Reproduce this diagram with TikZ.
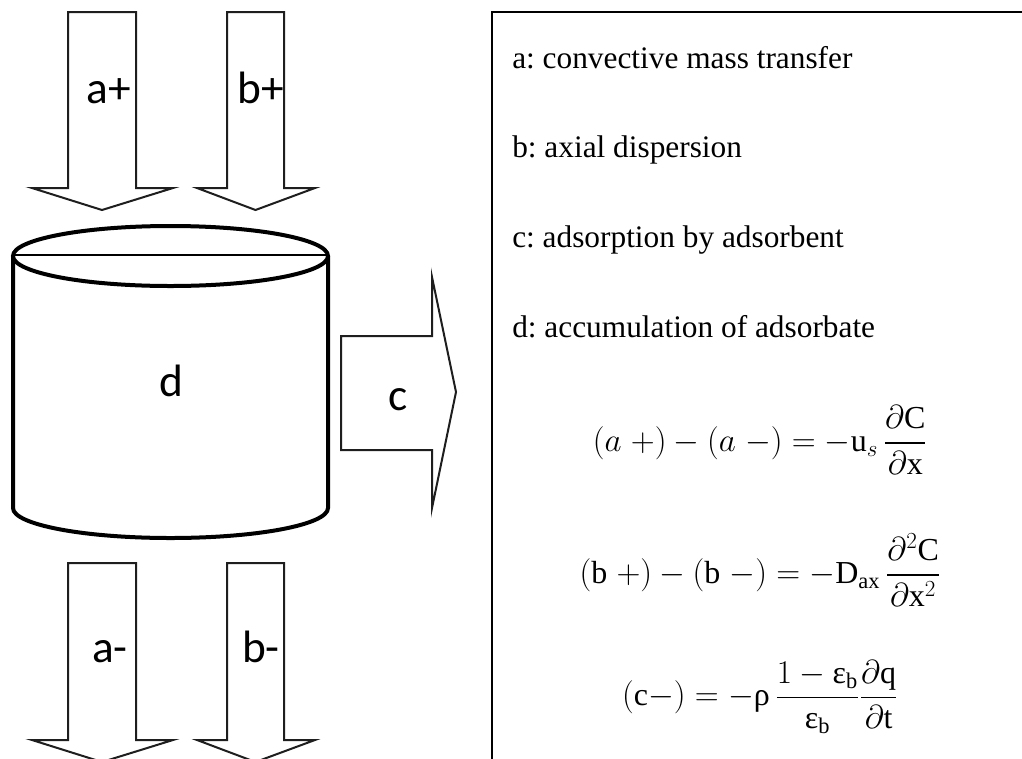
\documentclass[tikz,border=0pt]{standalone}
\usepackage{fontspec}
\setmainfont{Liberation Serif}
\newfontfamily\labelfont{Carlito}
\usepackage{amsmath}
\usetikzlibrary{positioning}
\definecolor{lineDark}{HTML}{1E1E1E}
\tikzset{
  blockarrow/.style = {draw=lineDark, fill=white, line width=1.5pt, line join=miter},
  vessel/.style     = {draw=black, fill=white, line width=3pt},
  flowlabel/.style  = {font=\labelfont\fontsize{34}{40}\selectfont, inner sep=0pt},
  legend/.style     = {font=\fontsize{23.5}{28}\selectfont, inner sep=0pt, anchor=base west},
  eqn/.style        = {font=\fontsize{24}{28}\selectfont, inner sep=0pt},
  panelline/.style  = {draw=black, line width=1.3pt}
}
\newcommand{\grk}[1]{\text{\normalfont #1}}
\frenchspacing
\begin{document}
\begin{tikzpicture}[x=0.75pt, y=-0.75pt]
  \useasboundingbox (0,0) rectangle (1022,758);
  \clip (0,0) rectangle (1022,758);
  % flow arrows in and out of the column
  \foreach \xl/\xr/\hl/\hr/\ytop/\ybase/\ytip in {
      68/136/32/173/12/188/210,
      227/284/197/315/12/188/210,
      68/136/32/173/563/740/762,
      227/284/197/315/563/740/762}{
    \draw[blockarrow] (\xl,\ytop) -- (\xr,\ytop) -- (\xr,\ybase) -- (\hr,\ybase)
      -- ({(\xl+\xr)/2},\ytip) -- (\hl,\ybase) -- (\xl,\ybase) -- cycle;
  }
  \node[flowlabel, anchor=base east] (aplus)  at (131,103) {a+};
  \node[flowlabel, anchor=base east] (bplus)  at (284,103) {b+};
  \node[flowlabel, anchor=base east] (aminus) at (128,662) {a-};
  \node[flowlabel, anchor=base east] (bminus) at (280,662) {b-};
  % column (cylinder)
  \draw[vessel] (13,256) -- (13,508) arc[start angle=180, end angle=0,
    x radius=157.5, y radius=30] -- (328,256);
  \draw[vessel] (170.5,256) ellipse [x radius=157.5, y radius=30];
  \draw[line width=2.2pt] (13,255) -- (328,255);
  \node[flowlabel, anchor=base] (accum) at (171,396) {d};
  % adsorption arrow
  \draw[blockarrow] (341,336) -- (432,336) -- (432,277) -- (456,392)
    -- (432,508) -- (432,450) -- (341,450) -- cycle;
  \node[flowlabel, anchor=base] (adsorb) at (398,410) {c};
  % legend panel
  \draw[panelline] (492,780) -- (492,12) -- (1040,12);
  \node[legend] (legA) at (512,68)  {a: convective mass transfer};
  \node[legend] (legB) at (512,157) {b: axial dispersion};
  \node[legend] (legC) at (512,247) {c: adsorption by adsorbent};
  \node[legend] (legD) at (512,337) {d: accumulation of adsorbate};
  \node[eqn] (eqA) at (760,440)
    {$\displaystyle (a\;{+}) - (a\;{-}) = -\mathrm{u}_s\,\frac{\partial\mathrm{C}}{\partial\mathrm{x}}$};
  \node[eqn] (eqB) at (760,570)
    {$\displaystyle (\mathrm{b}\;{+}) - (\mathrm{b}\;{-}) = -\mathrm{D}_{\mathrm{ax}}\,\frac{\partial^{2}\mathrm{C}}{\partial\mathrm{x}^{2}}$};
  \node[eqn] (eqC) at (760,697)
    {$\displaystyle (\mathrm{c}{-}) = -\grk{ρ}\,\frac{1-\grk{ε}_{\mathrm{b}}}{\grk{ε}_{\mathrm{b}}}\frac{\partial\mathrm{q}}{\partial\mathrm{t}}$};
\end{tikzpicture}
\end{document}
